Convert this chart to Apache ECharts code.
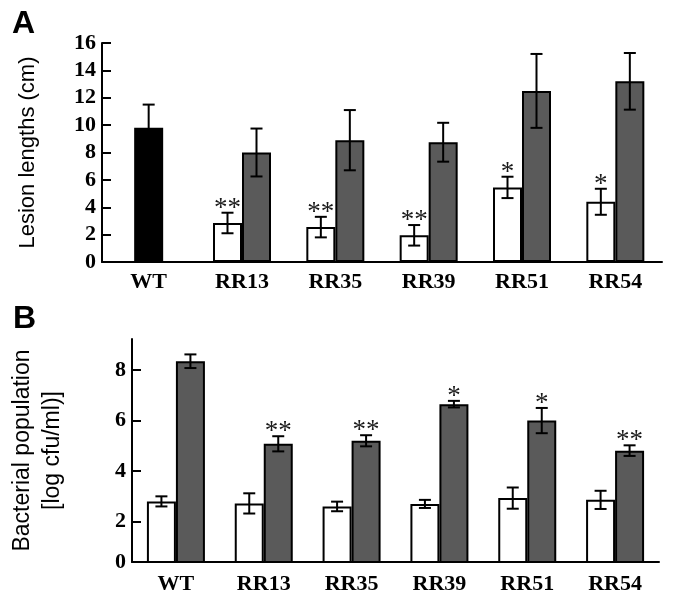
<!DOCTYPE html>
<html>
<head>
<meta charset="utf-8">
<script src="https://cdn.jsdelivr.net/npm/echarts@6/dist/echarts.min.js"></script>
<style>html,body{margin:0;padding:0;background:#fff;}#c{width:675px;height:605px;}</style>
</head>
<body>
<div id="c"></div>
<script>
// ---- data ----
var categories = ['WT', 'RR13', 'RR35', 'RR39', 'RR51', 'RR54'];
// Panel A: lesion lengths (cm)
var lesionBlack = [9.8, null, null, null, null, null];
var lesionBlackErr = [1.7, null, null, null, null, null];
var lesionWhite = [null, 2.85, 2.55, 1.95, 5.45, 4.4];
var lesionWhiteErr = [null, 0.75, 0.75, 0.75, 0.78, 0.95];
var lesionWhiteStars = ['', '**', '**', '**', '*', '*'];
var lesionGray = [null, 8.0, 8.9, 8.75, 12.5, 13.2];
var lesionGrayErr = [null, 1.75, 2.2, 1.42, 2.7, 2.07];
var lesionTicks = [0, 16, 2];
// Panel B: bacterial population (log cfu/ml)
var bacWhite = [2.8, 2.72, 2.6, 2.7, 2.93, 2.86];
var bacWhiteErr = [0.2, 0.4, 0.19, 0.16, 0.42, 0.36];
var bacGray = [8.35, 5.08, 5.2, 6.65, 6.0, 4.81];
var bacGrayErr = [0.27, 0.3, 0.22, 0.13, 0.5, 0.21];
var bacGrayStars = ['', '**', '**', '*', '*', '**'];
var bacAxisRange = [0.4, 9.23];
var bacTickValues = [2, 4, 6, 8];

// ---- styles ----
var BAR_W = 29;
var SERIF = "'Liberation Serif', 'Times New Roman', serif";
var SANS = "'Liberation Sans', Arial, sans-serif";
var GRAY = '#5a5a5a';

function xAxisCfg(gridIndex) {
  return {
    type: 'category', gridIndex: gridIndex, data: categories,
    axisLine: { lineStyle: { color: '#000', width: 2 } },
    axisTick: { inside: true, length: 7, lineStyle: { color: '#000', width: 2 } },
    axisLabel: { color: '#000', fontFamily: SERIF, fontWeight: 'bold', fontSize: 22, margin: gridIndex === 1 ? 11 : 9 }
  };
}
function yAxisBase(gridIndex) {
  return {
    type: 'value', gridIndex: gridIndex,
    splitLine: { show: false },
    axisLine: { show: true, lineStyle: { color: '#000', width: 2 } },
    axisTick: { show: true, inside: true, length: 9, lineStyle: { color: '#000', width: 2 } },
    axisLabel: { color: '#000', fontFamily: SERIF, fontWeight: 'bold', fontSize: 22, margin: 6 },
    nameLocation: 'middle', nameRotate: 90,
    nameTextStyle: { color: '#000', fontFamily: SANS, fontSize: 22 }
  };
}

function barSeries(data, color, xi, yi) {
  return {
    type: 'bar', xAxisIndex: xi, yAxisIndex: yi, data: data,
    barWidth: BAR_W, barGap: '0%',
    itemStyle: { color: color, borderColor: '#000', borderWidth: 2 },
    silent: true, z: 2
  };
}

function errSeries(values, errs, side, stars, xi, yi) {
  var data = [];
  values.forEach(function (v, i) { if (v != null) data.push([i, v, errs[i], i]); });
  return {
    type: 'custom', xAxisIndex: xi, yAxisIndex: yi, data: data, z: 5, silent: true,
    renderItem: function (params, api) {
      var i = api.value(0), v = api.value(1), e = api.value(2), idx = api.value(3);
      var top = api.coord([i, v + e]);
      var bot = api.coord([i, v - e]);
      var x = top[0] + side * BAR_W / 2;
      var cap = 6;
      var st = { stroke: '#000', lineWidth: 2 };
      var children = [
        { type: 'line', shape: { x1: x, y1: top[1], x2: x, y2: bot[1] }, style: st },
        { type: 'line', shape: { x1: x - cap, y1: top[1], x2: x + cap, y2: top[1] }, style: st },
        { type: 'line', shape: { x1: x - cap, y1: bot[1], x2: x + cap, y2: bot[1] }, style: st }
      ];
      var s = stars ? stars[idx] : '';
      if (s) {
        children.push({ type: 'text', x: x, y: top[1] - 4,
          style: { text: s, fill: '#1a1a1a', font: '27px ' + SERIF, align: 'center', verticalAlign: 'middle' } });
      }
      return { type: 'group', children: children };
    }
  };
}

var yA = yAxisBase(0);
yA.min = lesionTicks[0]; yA.max = lesionTicks[1]; yA.interval = lesionTicks[2];
yA.name = 'Lesion lengths (cm)'; yA.nameGap = 63;

var yB = yAxisBase(1);
yB.min = bacAxisRange[0]; yB.max = bacAxisRange[1];
yB.axisTick.customValues = bacTickValues;
yB.axisLabel.customValues = [bacAxisRange[0]].concat(bacTickValues);
yB.axisLabel.formatter = function (v) { return v < 1 ? '0' : String(Math.round(v)); };
yB.name = 'Bacterial population\n[log cfu/ml)]'; yB.nameGap = 64;
yB.nameTextStyle = { color: '#000', fontFamily: SANS, fontSize: 23, lineHeight: 30 };

var xHidden = { type: 'category', gridIndex: 0, data: categories, show: false };

var option = {
  backgroundColor: '#fff',
  animation: false,
  grid: [
    { left: 102, top: 43, width: 560, height: 219 },
    { left: 103, top: 339, width: 556, height: 223 }
  ],
  xAxis: [xAxisCfg(0), xHidden, xAxisCfg(1)],
  yAxis: [yA, yB],
  graphic: [
    { type: 'text', left: 12, top: 8, style: { text: 'A', font: 'bold 32px ' + SANS, fill: '#000' } },
    { type: 'text', left: 13, top: 303, style: { text: 'B', font: 'bold 32px ' + SANS, fill: '#000' } }
  ],
  series: [
    barSeries(lesionWhite, '#fff', 0, 0),
    barSeries(lesionGray, GRAY, 0, 0),
    barSeries(lesionBlack, '#000', 1, 0),
    errSeries(lesionWhite, lesionWhiteErr, -1, lesionWhiteStars, 0, 0),
    errSeries(lesionGray, lesionGrayErr, 1, null, 0, 0),
    errSeries(lesionBlack, lesionBlackErr, 0, null, 0, 0),
    barSeries(bacWhite, '#fff', 2, 1),
    barSeries(bacGray, GRAY, 2, 1),
    errSeries(bacWhite, bacWhiteErr, -1, null, 2, 1),
    errSeries(bacGray, bacGrayErr, 1, bacGrayStars, 2, 1)
  ]
};
var chart = echarts.init(document.getElementById('c'), null, { renderer: 'canvas' });
chart.setOption(option);
</script>
</body>
</html>
